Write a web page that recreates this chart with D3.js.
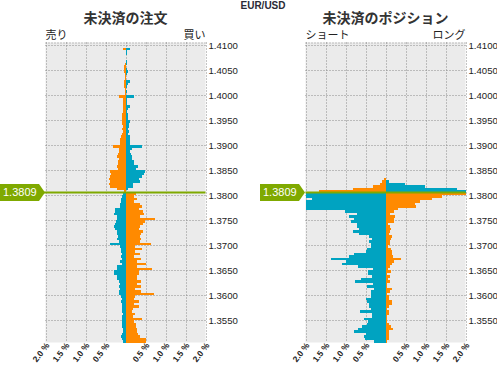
<!DOCTYPE html>
<html><head><meta charset="utf-8">
<script src="https://cdn.jsdelivr.net/npm/d3@7"></script>
<style>
html,body{margin:0;padding:0;background:#fff;}
svg{display:block;}
text{font-family:"Liberation Sans",Arial,sans-serif;}
.jp{font-family:"Noto Sans CJK JP",sans-serif;}
</style></head>
<body>
<svg id="chart" width="497" height="365"></svg>
<script>
// ---- data ----
const pairName = "EUR/USD";
const currentPrice = 1.3809;
const topBucket = 1.4100;      // lower edge of highest price bucket
const bucketSize = 0.0005;
const bucketCount = 120;
const priceTicks = [1.4100,1.4050,1.4000,1.3950,1.3900,1.3850,1.3800,1.3750,1.3700,1.3650,1.3600,1.3550];
const pctTicks = [-2.0,-1.5,-1.0,-0.5,0.5,1.0,1.5,2.0];
const gridPct = [-2.0,-1.5,-1.0,-0.5,0,0.5,1.0,1.5,2.0];
const chartTitles = ["未決済の注文","未決済のポジション"];
const leftLabels = ["売り","ショート"];
const rightLabels = ["買い","ロング"];

// open orders (%), bucket 0 = top price, left side and right side
const ordersLeft = [
 0,0,0.07,0,0,0,0,0,0.01,0.03,
 0.04,0.03,0.02,0.02,0.02,0.04,0.03,0.03,0.02,0.02,
 0.02,0.17,0.06,0.07,0.07,0.07,0.06,0.07,0.08,0.08,
 0.09,0.10,0.09,0.07,0.08,0.07,0.08,0.12,0.13,0.15,
 0.14,0.32,0.17,0.16,0.20,0.22,0.17,0.18,0.20,0.22,
 0.20,0.39,0.37,0.40,0.42,0.40,0.42,0.38,0.22,0.03,
 0.06,0.08,0.11,0.12,0.14,0.15,0.26,0.26,0.29,0.22,
 0.21,0.24,0.27,0.29,0.27,0.21,0.21,0.19,0.22,0.17,
 0.39,0.14,0.12,0.11,0.09,0.11,0.09,0.14,0.09,0.21,
 0.21,0.29,0.29,0.22,0.21,0.16,0.14,0.16,0.14,0.17,
 0.17,0.12,0.09,0.11,0.09,0.08,0.08,0.08,0.06,0.09,
 0.09,0.08,0.08,0.08,0.07,0.07,0.09,0.12,0.10,0.06
];
const ordersRight = [
 0,0,0.11,0.03,0.03,0.02,0,0.03,0.03,0.02,
 0.04,0.05,0.03,0.02,0.02,0.10,0.06,0.03,0.02,0.03,
 0.02,0.21,0.04,0.03,0.04,0.10,0.05,0.04,0.06,0.05,
 0.07,0.10,0.08,0.08,0.07,0.08,0.06,0.10,0.10,0.11,
 0.12,0.40,0.17,0.12,0.14,0.17,0.17,0.22,0.20,0.30,
 0.26,0.48,0.46,0.42,0.34,0.36,0.18,0.18,0.06,0,
 0.25,0.21,0.28,0.21,0.36,0.42,0.34,0.43,0.46,0.36,
 0.73,0.48,0.44,0.36,0.33,0.44,0.39,0.36,0.38,0.36,
 0.63,0.23,0.40,0.23,0.36,0.22,0.38,0.28,0.52,0.29,
 0.65,0.33,0.33,0.28,0.29,0.38,0.29,0.38,0.23,0.38,
 0.71,0.23,0.22,0.33,0.22,0.33,0.19,0.16,0.24,0.19,
 0.40,0.22,0.26,0.25,0.28,0.29,0.31,0.36,0.52,0.51
];
// open positions (%)
const positionsLeft = [
 0,0,0,0,0,0,0,0,0,0,
 0,0,0,0,0,0,0,0,0,0,
 0,0,0,0,0,0,0,0,0,0,
 0,0,0,0,0,0,0,0,0,0,
 0,0,0,0,0,0,0,0,0,0,
 0,0,0,0,0.03,0.09,0.14,0.31,0.81,1.67,
 2.0,2.0,1.83,2.0,2.0,2.0,2.0,1.01,0.72,0.92,
 0.80,0.87,0.72,0.71,0.66,0.82,0.66,0.42,0.34,0.42,
 0.37,0.37,0.47,0.49,0.78,0.92,1.37,1.00,1.09,0.68,
 0.32,0.44,0.44,0.34,0.62,0.77,0.32,0.47,0.29,0.37,
 0.37,0.37,0.49,0.46,0.42,0.42,0.37,0.64,0.33,0.35,
 0.54,0.44,0.47,0.59,0.69,0.79,0.48,0.54,0.51,0.29
];
const positionsRight = [
 0,0,0,0,0,0,0,0,0,0,
 0,0,0,0,0,0,0,0,0,0,
 0,0,0,0,0,0,0,0,0,0,
 0,0,0,0,0,0,0,0,0,0,
 0,0,0,0,0,0,0,0,0,0,
 0,0,0,0,0,0.09,0.49,0.98,1.78,2.0,
 2.0,1.40,1.15,0.86,0.73,0.76,0.32,0.21,0.10,0.23,
 0.20,0.20,0.07,0.10,0.13,0.12,0.08,0.15,0.13,0.11,
 0.10,0.06,0.13,0.15,0.17,0.18,0.38,0.21,0.17,0.11,
 0.07,0.13,0.04,0.11,0.07,0.11,0.03,0.03,0.16,0.11,
 0.03,0.08,0.08,0.16,0.16,0.08,0.04,0.08,0.08,0.04,
 0.04,0.04,0.08,0.13,0.18,0.08,0.08,0.08,0.08,0.04
];

// ---- style ----
const ORANGE = "#ff8a00", TEAL = "#00a3c1", GREEN = "#7fa900", BG = "#ebebeb", GRID = "#8a8a8a";

const svg = d3.select("#chart");
const buckets = d3.range(bucketCount).map(i => +(topBucket - i*bucketSize).toFixed(4));
const y = d3.scaleLinear()
  .domain([buckets[bucketCount-1], topBucket + bucketSize])
  .range([342.5, 42.5]);
const linePrice = Math.floor(currentPrice/bucketSize + 1e-9)*bucketSize;

svg.append("text").attr("x", 263).attr("y", 9).attr("text-anchor","middle")
  .attr("font-size", 10).attr("font-weight","bold").attr("fill","#2a2a36").text(pairName);

const panels = [
  {x0:45.5, left: ordersLeft, right: ordersRight},
  {x0:305.5, left: positionsLeft, right: positionsRight}
];

panels.forEach((p, k) => {
  const x = d3.scaleLinear().domain([-2,2]).range([p.x0, p.x0+160]);
  const g = svg.append("g");
  const [y0, y1] = y.range();
  g.append("rect").attr("x", x(-2)).attr("y", y1).attr("width", x(2)-x(-2)).attr("height", y0-y1).attr("fill", BG);

  // title & side labels
  svg.append("text").attr("class","jp").attr("x", x(0)).attr("y", 23).attr("text-anchor","middle")
    .attr("font-size", 14).attr("font-weight","bold").attr("fill","#333").text(chartTitles[k]);
  svg.append("text").attr("class","jp").attr("x", x(-2)).attr("y", 39)
    .attr("font-size", 11).attr("fill","#222").text(leftLabels[k]);
  svg.append("text").attr("class","jp").attr("x", x(2)).attr("y", 39).attr("text-anchor","end")
    .attr("font-size", 11).attr("fill","#222").text(rightLabels[k]);

  // grid
  g.selectAll(".gv").data(gridPct).join("line")
    .attr("x1", d => Math.round(x(d))+0.5).attr("x2", d => Math.round(x(d))+0.5)
    .attr("y1", y1).attr("y2", y0)
    .attr("stroke", GRID).attr("stroke-dasharray","1,2");
  g.selectAll(".gh").data(priceTicks).join("line")
    .attr("x1", x(-2)).attr("x2", x(2))
    .attr("y1", d => Math.round(y(d))+0.5).attr("y2", d => Math.round(y(d))+0.5)
    .attr("stroke", GRID).attr("stroke-dasharray","1,2");
  g.append("line").attr("x1", x(-2)).attr("x2", x(2)).attr("y1", y1+0.5).attr("y2", y1+0.5)
    .attr("stroke", GRID).attr("stroke-dasharray","1,2");

  // bars
  const rows = buckets.map((b, i) => ({b, l: p.left[i], r: p.right[i], above: b >= linePrice - 1e-9}));
  const bars = g.append("g").attr("shape-rendering","crispEdges");
  bars.selectAll(".bl").data(rows.filter(d => d.l > 0)).join("rect")
    .attr("x", d => x(-Math.min(d.l,2))).attr("width", d => x(0)-x(-Math.min(d.l,2)))
    .attr("y", d => y(d.b + bucketSize)).attr("height", d => y(d.b) - y(d.b + bucketSize))
    .attr("fill", d => d.above ? ORANGE : TEAL);
  bars.selectAll(".br").data(rows.filter(d => d.r > 0)).join("rect")
    .attr("x", x(0)).attr("width", d => x(Math.min(d.r,2))-x(0))
    .attr("y", d => y(d.b + bucketSize)).attr("height", d => y(d.b) - y(d.b + bucketSize))
    .attr("fill", d => d.above ? TEAL : ORANGE);

  // y axis
  const ya = g.append("g").attr("transform", `translate(${x(2)+2},0)`)
    .call(d3.axisRight(y).tickValues(priceTicks).tickSize(0).tickPadding(1).tickFormat(d3.format(".4f")));
  ya.select(".domain").remove();
  ya.selectAll("text").attr("font-size", 9.6).attr("fill","#222").attr("font-family","Liberation Sans, Arial, sans-serif");

  // x axis
  const xa = g.append("g").attr("transform", `translate(0,${y0})`)
    .call(d3.axisBottom(x).tickValues(pctTicks).tickSize(0).tickFormat(d => d3.format(".1f")(Math.abs(d)) + " %"));
  xa.select(".domain").remove();
  xa.selectAll("text")
    .attr("font-size", 8.5).attr("font-weight","bold").attr("fill","#222")
    .attr("font-family","Liberation Sans, Arial, sans-serif")
    .attr("text-anchor","end").attr("y", 0).attr("dy","0.3em")
    .attr("transform","translate(2,1.5) rotate(-52)");

  // current price line + label
  const ly = y(linePrice);
  g.append("line").attr("x1", x(-2) - (k===0 ? 45 : 0)).attr("x2", x(2)).attr("y1", ly).attr("y2", ly)
    .attr("stroke", GREEN).attr("stroke-width", 1.8);
  const tip = x(-2) - 0.5, bx = tip - 45;
  g.append("path")
    .attr("d", `M${bx},${ly-8.5}H${tip-6}L${tip},${ly}L${tip-6},${ly+8.5}H${bx}Z`)
    .attr("fill", GREEN);
  g.append("text").attr("x", bx + 3).attr("y", ly).attr("dy","0.36em")
    .attr("font-size", 11).attr("fill","#fff").text(d3.format(".4f")(currentPrice));
});
</script>
</body></html>
